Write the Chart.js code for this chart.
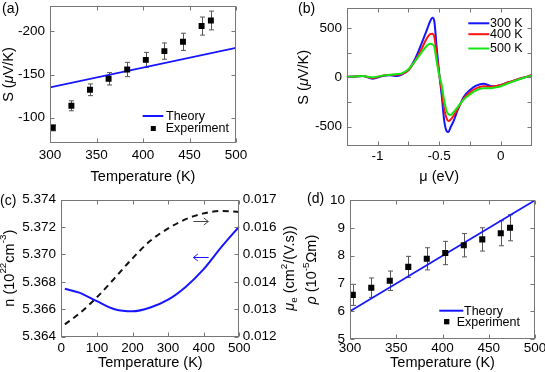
<!DOCTYPE html>
<html lang="en">
<head>
<meta charset="UTF-8">
<title>Seebeck, carrier density and resistivity</title>
<script src="https://cdn.jsdelivr.net/npm/chart.js"></script>
<style>
    body { margin: 0; background: #fff; }
    #fig { position: relative; width: 545px; height: 372px; font-family: 'Liberation Sans', Arial, sans-serif; }
    #fig canvas { position: absolute; }
    .lab { position: absolute; font-size: 14px; line-height: 16px; color: #000; }
</style>
</head>
<body>
<div id="fig">
    <canvas id="ca" width="272" height="186" style="left:0;top:0"></canvas>
    <canvas id="cb" width="273" height="186" style="left:272px;top:0"></canvas>
    <canvas id="cc" width="300" height="186" style="left:0;top:186px"></canvas>
    <canvas id="cd" width="245" height="186" style="left:300px;top:186px"></canvas>
    <div class="lab" style="left:2px;top:0">(a)</div>
    <div class="lab" style="left:298px;top:0">(b)</div>
    <div class="lab" style="left:0;top:192px">(c)</div>
    <div class="lab" style="left:307px;top:190px">(d)</div>
</div>
<script>
// ---- data ----
// (a) Seebeck coefficient vs temperature
var expT = [303, 323, 343, 363, 383, 403, 423, 443, 463, 473];
var seebeckExp = [-88, -113.6, -132.2, -145, -155.8, -167, -177.2, -188, -206.3, -212.8];
var seebeckErr = [3.5, 5.8, 6.8, 7.2, 8.3, 8.7, 9.5, 10, 10.5, 10.9];
var theoryT = [300, 500];
var seebeckTheory = [-135, -181];
var tempTicks = [300, 350, 400, 450, 500];
var seebeckTicks = [-200, -150, -100];

// (b) Seebeck coefficient vs chemical potential
var mu = [-1.25, -1.18, -1.12, -1.04, -0.96, -0.90, -0.84, -0.80, -0.75, -0.70, -0.65, -0.60, -0.575, -0.555, -0.54, -0.52,
          -0.50, -0.48, -0.46, -0.44, -0.425, -0.41, -0.38, -0.35, -0.30, -0.25, -0.20, -0.14, -0.09, -0.05, 0.00, 0.06, 0.12, 0.18, 0.25];
var s300 = [5, 8, 13, -14, 13, 20, 13, 30, 74, 176, 321, 481, 565, 605, 572, 295,
            40, -180, -434, -545, -556, -515, -434, -332, -197, -129, -85, -65, -85, -91, -78, -51, -27, -4, 20];
var s400 = [5, 8, 13, -7, 17, 24, 27, 35, 71, 158, 270, 396, 437, 443, 413, 227,
            30, -130, -315, -417, -444, -434, -383, -322, -213, -152, -112, -91, -95, -91, -78, -51, -27, -4, 20];
var s500 = [5, 8, 13, 0, 17, 27, 33, 42, 81, 158, 240, 321, 341, 335, 311, 159,
            20, -78, -231, -343, -376, -383, -349, -302, -224, -173, -132, -112, -112, -105, -91, -61, -34, -7, 17];
var muLabelTicks = [-1, -0.5, 0];
var muTicks = [-1, -0.75, -0.5, -0.25, 0];
var sLabelTicks = [-500, 0, 500];
var sTicks = [-500, -250, 0, 250, 500];

// (c) carrier density and mobility vs temperature
var cT = [10, 50, 100, 150, 200, 250, 300, 350, 400, 450, 500];
var nVals = [5.36750, 5.36722, 5.36659, 5.36600, 5.36585, 5.36613, 5.36670, 5.36765, 5.36893, 5.37055, 5.37205];
var muE = [0.01245, 0.01284, 0.01344, 0.01414, 0.01486, 0.01550, 0.01595, 0.01629, 0.01650, 0.01659, 0.01655];
var cTempTicks = [0, 100, 200, 300, 400, 500];
var nTicks = [5.364, 5.366, 5.368, 5.370, 5.372, 5.374];
var muETicks = [0.012, 0.013, 0.014, 0.015, 0.016, 0.017];

// (d) resistivity vs temperature
var rhoExp = [6.59, 6.85, 7.10, 7.60, 7.89, 8.10, 8.38, 8.59, 8.81, 9.01];
var rhoErr = [0.38, 0.35, 0.35, 0.38, 0.40, 0.42, 0.42, 0.42, 0.45, 0.47];
var rhoTheory = [6.0, 10.0];
var rhoTicks = [5, 6, 7, 8, 9, 10];

var FONT = "'Liberation Sans', Arial, Helvetica, sans-serif";
var BLUE = '#1515ff';
Chart.defaults.font.family = FONT;
Chart.defaults.color = '#000';

function pts(xs, ys) {
    return xs.map(function (x, i) { return { x: x, y: ys[i] }; });
}

// extra drawing per canvas: frame, inward ticks, error bars, legends, rotated titles, arrows
var extras = {};

function runFont(r, size) {
    var s = (r.sup || r.sub) ? size * 0.68 : size;
    return (r.italic ? 'italic ' : '') + s + 'px ' + FONT;
}

function drawRotated(ctx, runs, cx, cy, size) {
    ctx.save();
    ctx.translate(cx, cy);
    ctx.rotate(-Math.PI / 2);
    ctx.textBaseline = 'middle';
    ctx.textAlign = 'left';
    ctx.fillStyle = '#000';
    var total = 0, widths = [];
    runs.forEach(function (r) {
        ctx.font = runFont(r, size);
        var w = ctx.measureText(r.t).width;
        widths.push(w);
        total += w;
    });
    var x = -total / 2;
    runs.forEach(function (r, i) {
        ctx.font = runFont(r, size);
        var dy = r.sup ? -size * 0.4 : (r.sub ? size * 0.3 : 0);
        ctx.fillText(r.t, x, dy);
        x += widths[i];
    });
    ctx.restore();
}

var figPlugin = {
    id: 'figExtras',
    beforeDatasetsDraw: function (chart) {
        var ex = extras[chart.canvas.id];
        if (!ex || !ex.err) return;
        var ctx = chart.ctx, ys = chart.scales.y;
        var meta = chart.getDatasetMeta(ex.err.dataset);
        ctx.save();
        ctx.strokeStyle = '#555';
        ctx.lineWidth = 1;
        ctx.beginPath();
        meta.data.forEach(function (p, i) {
            var x = Math.round(p.x) + 0.5;
            var y1 = ys.getPixelForValue(ex.err.values[i] + ex.err.errors[i]);
            var y2 = ys.getPixelForValue(ex.err.values[i] - ex.err.errors[i]);
            ctx.moveTo(x, y1); ctx.lineTo(x, y2);
            ctx.moveTo(x - 2.5, y1); ctx.lineTo(x + 2.5, y1);
            ctx.moveTo(x - 2.5, y2); ctx.lineTo(x + 2.5, y2);
        });
        ctx.stroke();
        ctx.restore();
    },
    afterDraw: function (chart) {
        var ex = extras[chart.canvas.id];
        if (!ex) return;
        var ctx = chart.ctx, a = chart.chartArea;
        var xs = chart.scales.x, ys = chart.scales.y;
        var L = Math.round(a.left) + 0.5, R = Math.round(a.right) - 0.5;
        var T = Math.round(a.top) + 0.5, B = Math.round(a.bottom) - 0.5;
        ctx.save();
        ctx.strokeStyle = '#777';
        ctx.lineWidth = 1;
        ctx.strokeRect(L, T, R - L, B - T);
        ctx.beginPath();
        ex.ticksX.forEach(function (v) {
            var p = Math.round(xs.getPixelForValue(v)) + 0.5;
            ctx.moveTo(p, B); ctx.lineTo(p, B - 4);
            ctx.moveTo(p, T); ctx.lineTo(p, T + 4);
        });
        ex.ticksY.forEach(function (v) {
            var p = Math.round(ys.getPixelForValue(v)) + 0.5;
            ctx.moveTo(L, p); ctx.lineTo(L + 4, p);
            ctx.moveTo(R, p); ctx.lineTo(R - 4, p);
        });
        ctx.stroke();

        // legend
        ctx.font = '12.5px ' + FONT;
        ctx.textBaseline = 'middle';
        ctx.textAlign = 'left';
        (ex.legend || []).forEach(function (e) {
            if (e.kind === 'line') {
                ctx.strokeStyle = e.color;
                ctx.lineWidth = 2;
                ctx.beginPath();
                ctx.moveTo(e.x1, e.y); ctx.lineTo(e.x2, e.y);
                ctx.stroke();
            } else {
                ctx.fillStyle = e.color;
                ctx.fillRect(e.x - e.size / 2, e.y - e.size / 2, e.size, e.size);
            }
            ctx.fillStyle = '#000';
            ctx.fillText(e.text, e.tx, e.y + 0.5);
        });

        // arrows in data coordinates
        (ex.arrows || []).forEach(function (ar) {
            var x1 = xs.getPixelForValue(ar.x1), x2 = xs.getPixelForValue(ar.x2);
            var y = Math.round(chart.scales[ar.axis].getPixelForValue(ar.y)) + 0.5;
            var hx = ar.dir > 0 ? x2 : x1;
            ctx.strokeStyle = ar.color;
            ctx.lineWidth = 1;
            ctx.beginPath();
            ctx.moveTo(x1, y); ctx.lineTo(x2, y);
            ctx.moveTo(hx - ar.dir * 4.5, y - 3.5); ctx.lineTo(hx, y); ctx.lineTo(hx - ar.dir * 4.5, y + 3.5);
            ctx.stroke();
        });

        // rotated axis titles
        var cy = (a.top + a.bottom) / 2;
        (ex.yTitles || []).forEach(function (t) {
            drawRotated(ctx, t.runs, t.x, cy, 14.5);
        });
        ctx.restore();
    }
};
Chart.register(figPlugin);

function xAxis(min, max, labels, height, tickPad, title, titlePad, fmt) {
    return {
        type: 'linear', position: 'bottom', min: min, max: max,
        grid: { display: false, drawTicks: false }, border: { display: false },
        ticks: { padding: tickPad, maxRotation: 0, autoSkip: false, font: { size: 13.5 },
                 callback: fmt || function (v) { return String(v); } },
        title: { display: true, text: title, font: { size: 14.5 }, padding: { top: titlePad, bottom: 0 } },
        afterBuildTicks: function (s) { s.ticks = labels.map(function (v) { return { value: v }; }); },
        afterFit: function (s) { s.height = height; s.paddingLeft = 0; s.paddingRight = 0; }
    };
}

function yAxis(pos, min, max, labels, width, tickPad, fmt, reverse) {
    return {
        type: 'linear', position: pos, min: min, max: max, reverse: !!reverse,
        grid: { display: false, drawTicks: false }, border: { display: false },
        ticks: { padding: tickPad, autoSkip: false, font: { size: 13.5 },
                 callback: fmt || function (v) { return String(v); } },
        title: { display: false },
        afterBuildTicks: function (s) { s.ticks = labels.map(function (v) { return { value: v }; }); },
        afterFit: function (s) { s.width = width; s.paddingTop = 0; s.paddingBottom = 0; }
    };
}

var base = {
    responsive: false,
    animation: false,
    events: [],
    plugins: { legend: { display: false }, tooltip: { enabled: false } }
};

function opts(padding, scales) {
    return Object.assign({}, base, { layout: { padding: padding }, scales: scales });
}

// ---- (a) ----
extras.ca = {
    ticksX: tempTicks, ticksY: seebeckTicks,
    err: { dataset: 0, values: seebeckExp, errors: seebeckErr },
    legend: [
        { kind: 'line', color: BLUE, x1: 142.7, x2: 163.3, y: 116, text: 'Theory', tx: 166 },
        { kind: 'rect', color: '#000', x: 153.3, y: 128.5, size: 5, text: 'Experiment', tx: 165.7 }
    ],
    yTitles: [{ x: 9, runs: [{ t: 'S (' }, { t: 'μ', italic: true }, { t: 'V/K)' }] }]
};
new Chart(document.getElementById('ca'), {
    type: 'scatter',
    data: { datasets: [
        { label: 'Experiment', data: pts(expT, seebeckExp), pointStyle: 'rect', pointRadius: 4.2,
          backgroundColor: '#000', borderWidth: 0, order: 1 },
        { label: 'Theory', data: pts(theoryT, seebeckTheory), showLine: true, borderColor: BLUE,
          borderWidth: 1.8, pointRadius: 0, order: 2 }
    ] },
    options: opts({ left: 0, right: 36, top: 5.7, bottom: 0 }, {
        x: xAxis(300, 500, tempTicks, 42.7, 3.8, 'Temperature (K)', 7.3),
        y: yAxis('left', -230, -70, seebeckTicks, 50, 5, null, true)
    })
});

// ---- (b) ----
extras.cb = {
    ticksX: muTicks, ticksY: sTicks,
    legend: [
        { kind: 'line', color: BLUE, x1: 196.3, x2: 217.3, y: 23.3, text: '300 K', tx: 218 },
        { kind: 'line', color: '#ff1414', x1: 196.3, x2: 217.3, y: 34.2, text: '400 K', tx: 218 },
        { kind: 'line', color: '#14e614', x1: 196.3, x2: 217.3, y: 48.5, text: '500 K', tx: 218 }
    ],
    yTitles: [{ x: 31.7, runs: [{ t: 'S (' }, { t: 'μ', italic: true }, { t: 'V/K)' }] }]
};
function muLine(label, vals, color, order) {
    return { label: label, data: pts(mu, vals), showLine: true, borderColor: color, borderWidth: 2,
             pointRadius: 0, cubicInterpolationMode: 'monotone', order: order };
}
new Chart(document.getElementById('cb'), {
    type: 'scatter',
    data: { datasets: [
        muLine('300 K', s300, BLUE, 3),
        muLine('400 K', s400, '#ff1414', 2),
        muLine('500 K', s500, '#14e614', 1)
    ] },
    options: opts({ left: 0, right: 13.3, top: 8.4, bottom: 0 }, {
        x: xAxis(-1.25, 0.25, muLabelTicks, 39.8, 2.4, 'μ (eV)', 5.6),
        y: yAxis('left', -700, 700, sLabelTicks, 74.7, 4.7)
    })
});

// ---- (c) ----
extras.cc = {
    ticksX: cTempTicks, ticksY: nTicks,
    arrows: [
        { x1: 371, x2: 413, y: 5.37247, axis: 'y', color: '#444', dir: 1 },
        { x1: 371, x2: 414, y: 5.36984, axis: 'y', color: BLUE, dir: -1 }
    ],
    yTitles: [
        { x: 9.5, runs: [{ t: 'n (10' }, { t: '22', sup: true }, { t: 'cm' }, { t: '-3', sup: true }, { t: ')' }] },
        { x: 290, runs: [{ t: 'μ', italic: true }, { t: 'e', sub: true }, { t: ' (cm' }, { t: '2', sup: true }, { t: '/(V.s))' }] }
    ]
};
function dec3(v) { return v.toFixed(3); }
new Chart(document.getElementById('cc'), {
    type: 'scatter',
    data: { datasets: [
        { label: 'n', data: pts(cT, nVals), yAxisID: 'y', showLine: true, borderColor: BLUE, borderWidth: 2,
          pointRadius: 0, cubicInterpolationMode: 'monotone' },
        { label: 'mobility', data: pts(cT, muE), yAxisID: 'y1', showLine: true, borderColor: '#111',
          borderWidth: 2, borderDash: [6, 4.5], pointRadius: 0, cubicInterpolationMode: 'monotone' }
    ] },
    options: opts({ left: 0, right: 0, top: 13.7, bottom: 0 }, {
        x: xAxis(0, 500, cTempTicks, 35.3, 3.5, 'Temperature (K)', 0),
        y: yAxis('left', 5.364, 5.374, nTicks, 61.3, 5.3, dec3),
        y1: yAxis('right', 0.012, 0.017, muETicks, 60.7, 3.4, dec3)
    })
});

// ---- (d) ----
extras.cd = {
    ticksX: tempTicks, ticksY: rhoTicks,
    err: { dataset: 0, values: rhoExp, errors: rhoErr },
    legend: [
        { kind: 'line', color: BLUE, x1: 139.3, x2: 163.3, y: 124.7, text: 'Theory', tx: 164 },
        { kind: 'rect', color: '#000', x: 146.7, y: 135.7, size: 5.3, text: 'Experiment', tx: 156.7 }
    ],
    yTitles: [{ x: 11.7, runs: [{ t: 'ρ', italic: true }, { t: ' (10' }, { t: '-5', sup: true }, { t: 'Ωm)' }] }]
};
new Chart(document.getElementById('cd'), {
    type: 'scatter',
    data: { datasets: [
        { label: 'Experiment', data: pts(expT, rhoExp), pointStyle: 'rect', pointRadius: 4.3,
          backgroundColor: '#000', borderWidth: 0, order: 1 },
        { label: 'Theory', data: pts(theoryT, rhoTheory), showLine: true, borderColor: BLUE,
          borderWidth: 1.8, pointRadius: 0, order: 2 }
    ] },
    options: opts({ left: 0, right: 10, top: 14.3, bottom: 0 }, {
        x: xAxis(300, 500, tempTicks, 33, 1.2, 'Temperature (K)', -1.7),
        y: yAxis('left', 5, 10, rhoTicks, 50, 5)
    })
});
</script>
</body>
</html>
